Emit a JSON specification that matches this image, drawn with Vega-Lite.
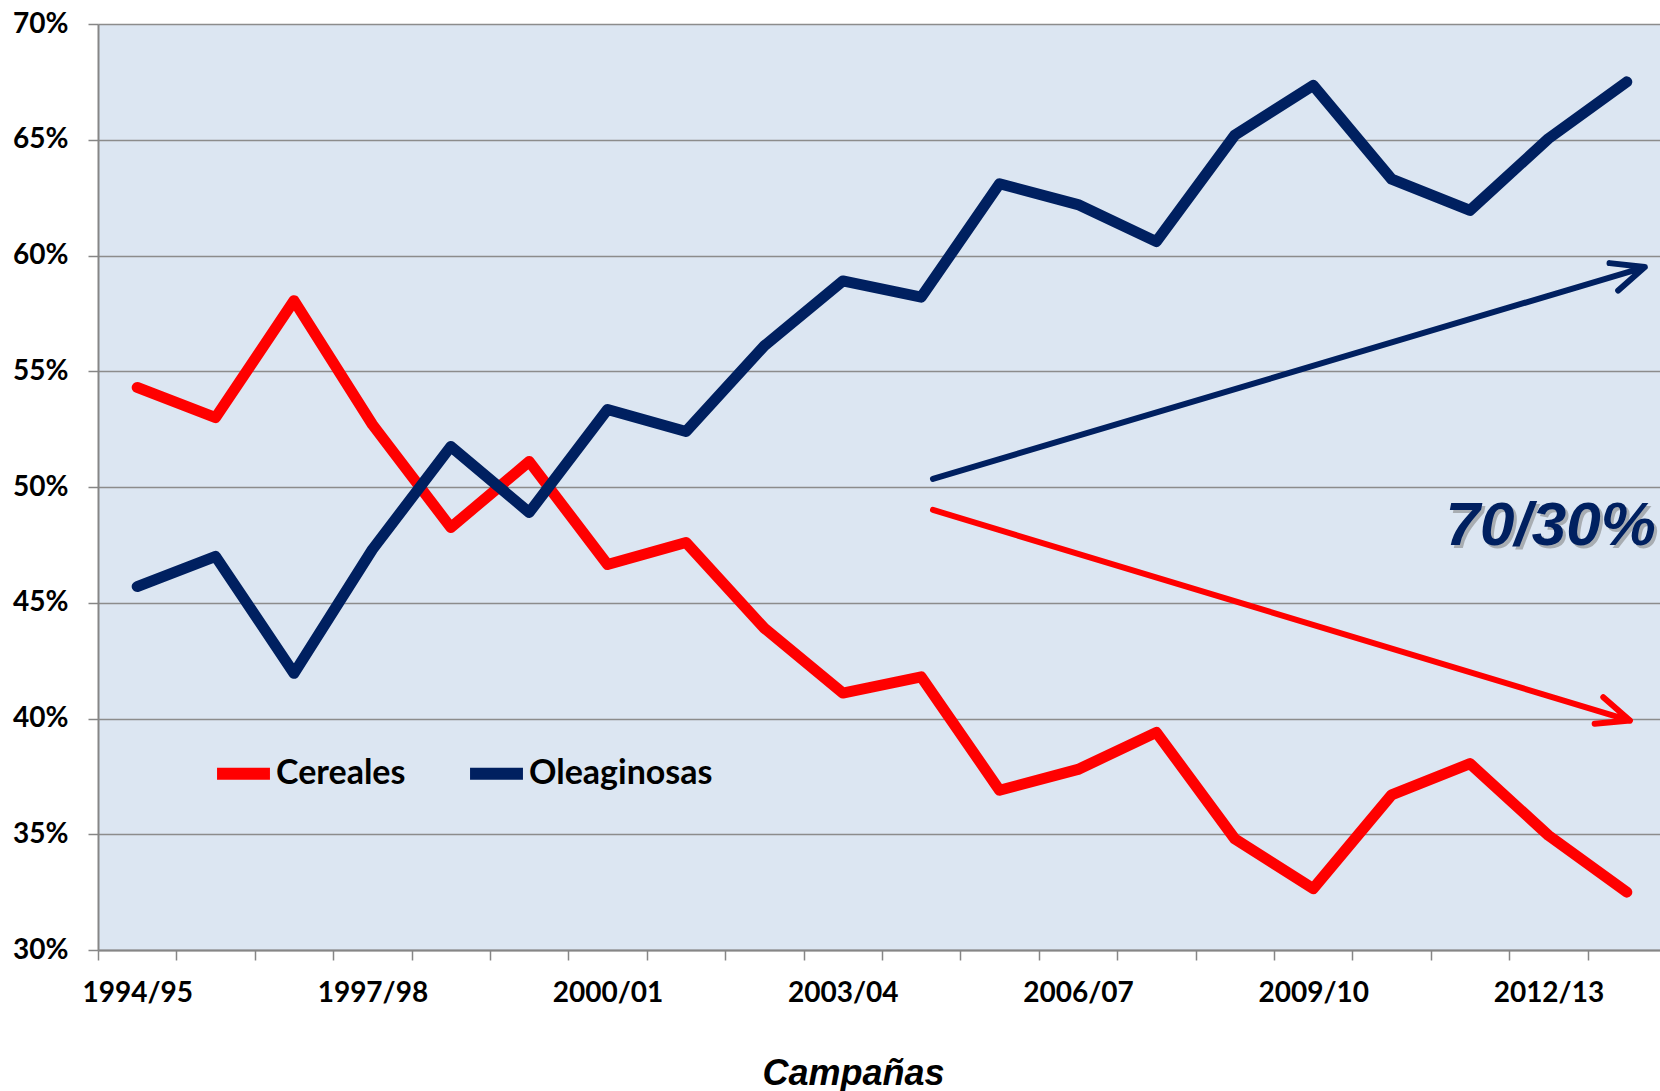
{
  "$schema": "https://vega.github.io/schema/vega-lite/v6.json",
  "width": 1562,
  "height": 926,
  "autosize": {"type": "none"},
  "padding": {"left": 98, "top": 24, "right": 0, "bottom": 141},
  "background": "#ffffff",
  "config": {
    "view": {"fill": "#dce6f2", "stroke": null}
  },
  "datasets": {
    "series": [
      {"campana": "1994/95", "serie": "Cereales", "valor": 54.3},
      {"campana": "1995/96", "serie": "Cereales", "valor": 53.0},
      {"campana": "1996/97", "serie": "Cereales", "valor": 58.05},
      {"campana": "1997/98", "serie": "Cereales", "valor": 52.7},
      {"campana": "1998/99", "serie": "Cereales", "valor": 48.25},
      {"campana": "1999/00", "serie": "Cereales", "valor": 51.1},
      {"campana": "2000/01", "serie": "Cereales", "valor": 46.65},
      {"campana": "2001/02", "serie": "Cereales", "valor": 47.6},
      {"campana": "2002/03", "serie": "Cereales", "valor": 43.9},
      {"campana": "2003/04", "serie": "Cereales", "valor": 41.1},
      {"campana": "2004/05", "serie": "Cereales", "valor": 41.8},
      {"campana": "2005/06", "serie": "Cereales", "valor": 36.9},
      {"campana": "2006/07", "serie": "Cereales", "valor": 37.8},
      {"campana": "2007/08", "serie": "Cereales", "valor": 39.4},
      {"campana": "2008/09", "serie": "Cereales", "valor": 34.8},
      {"campana": "2009/10", "serie": "Cereales", "valor": 32.65},
      {"campana": "2010/11", "serie": "Cereales", "valor": 36.7},
      {"campana": "2011/12", "serie": "Cereales", "valor": 38.05},
      {"campana": "2012/13", "serie": "Cereales", "valor": 34.95},
      {"campana": "2013/14", "serie": "Cereales", "valor": 32.5},
      {"campana": "1994/95", "serie": "Oleaginosas", "valor": 45.7},
      {"campana": "1995/96", "serie": "Oleaginosas", "valor": 47.0},
      {"campana": "1996/97", "serie": "Oleaginosas", "valor": 41.95},
      {"campana": "1997/98", "serie": "Oleaginosas", "valor": 47.3},
      {"campana": "1998/99", "serie": "Oleaginosas", "valor": 51.75},
      {"campana": "1999/00", "serie": "Oleaginosas", "valor": 48.9},
      {"campana": "2000/01", "serie": "Oleaginosas", "valor": 53.35},
      {"campana": "2001/02", "serie": "Oleaginosas", "valor": 52.4},
      {"campana": "2002/03", "serie": "Oleaginosas", "valor": 56.1},
      {"campana": "2003/04", "serie": "Oleaginosas", "valor": 58.9},
      {"campana": "2004/05", "serie": "Oleaginosas", "valor": 58.2},
      {"campana": "2005/06", "serie": "Oleaginosas", "valor": 63.1},
      {"campana": "2006/07", "serie": "Oleaginosas", "valor": 62.2},
      {"campana": "2007/08", "serie": "Oleaginosas", "valor": 60.6},
      {"campana": "2008/09", "serie": "Oleaginosas", "valor": 65.2},
      {"campana": "2009/10", "serie": "Oleaginosas", "valor": 67.35},
      {"campana": "2010/11", "serie": "Oleaginosas", "valor": 63.3},
      {"campana": "2011/12", "serie": "Oleaginosas", "valor": 61.95},
      {"campana": "2012/13", "serie": "Oleaginosas", "valor": 65.05},
      {"campana": "2013/14", "serie": "Oleaginosas", "valor": 67.5}
    ],
    "flechas": [
      {"serie": "Oleaginosas", "orden": 1, "pos": 10.65, "valor": 50.35},
      {"serie": "Oleaginosas", "orden": 2, "pos": 19.73, "valor": 59.5},
      {"serie": "Oleaginosas", "orden": 3, "pos": 19.28, "valor": 59.67},
      {"serie": "Oleaginosas", "orden": 4, "pos": 19.73, "valor": 59.5},
      {"serie": "Oleaginosas", "orden": 5, "pos": 19.39, "valor": 58.49},
      {"serie": "Cereales", "orden": 1, "pos": 10.65, "valor": 49.01},
      {"serie": "Cereales", "orden": 2, "pos": 19.54, "valor": 39.91},
      {"serie": "Cereales", "orden": 3, "pos": 19.2, "valor": 40.92},
      {"serie": "Cereales", "orden": 4, "pos": 19.54, "valor": 39.91},
      {"serie": "Cereales", "orden": 5, "pos": 19.09, "valor": 39.77}
    ],
    "nota": [
      {"pos": 18.53, "valor": 48.3, "texto": "70/30%"}
    ]
  },
  "layer": [
    {
      "data": {"name": "series"},
      "mark": {"type": "line", "strokeWidth": 11, "strokeCap": "round", "strokeJoin": "round"},
      "encoding": {
        "x": {
          "field": "campana",
          "type": "ordinal",
          "sort": null,
          "scale": {"type": "band", "paddingInner": 0, "paddingOuter": 0, "range": [0, 1568]},
          "axis": {
            "title": "Campañas",
            "titleFont": "Liberation Sans",
            "titleFontStyle": "italic",
            "titleFontWeight": "bold",
            "titleFontSize": 36,
            "titleColor": "#000000",
            "titlePadding": 49,
            "titleX": 755,
            "tickBand": "extent",
            "tickSize": 10,
            "tickColor": "#868686",
            "tickWidth": 1.5,
            "domainColor": "#868686",
            "domainWidth": 2,
            "grid": false,
            "labelAngle": 0,
            "labelOverlap": false,
            "labelPadding": 19,
            "labelFont": "Lato",
            "labelFontWeight": "bold",
            "labelFontSize": 28,
            "labelColor": "#000000",
            "labelExpr": "indexof(['1994/95','1997/98','2000/01','2003/04','2006/07','2009/10','2012/13'], datum.value) >= 0 ? datum.value : ''"
          }
        },
        "y": {
          "field": "valor",
          "type": "quantitative",
          "scale": {"domain": [30, 70], "nice": false, "zero": false},
          "axis": {
            "title": null,
            "values": [30, 35, 40, 45, 50, 55, 60, 65, 70],
            "labelExpr": "datum.value + '%'",
            "grid": true,
            "gridColor": "#8c8c8c",
            "gridWidth": 1.5,
            "tickSize": 10,
            "tickColor": "#868686",
            "tickWidth": 1.5,
            "domainColor": "#868686",
            "domainWidth": 2,
            "labelPadding": 20,
            "labelFont": "Lato",
            "labelFontWeight": "bold",
            "labelFontSize": 28,
            "labelColor": "#000000"
          }
        },
        "color": {
          "field": "serie",
          "type": "nominal",
          "scale": {"domain": ["Cereales", "Oleaginosas"], "range": ["#ff0000", "#002060"]},
          "legend": {
            "title": null,
            "orient": "none",
            "legendX": 113,
            "legendY": 717,
            "direction": "horizontal",
            "symbolType": "stroke",
            "symbolSize": 2800,
            "symbolStrokeWidth": 12,
            "labelFont": "Lato",
            "labelFontWeight": "bold",
            "labelFontSize": 34,
            "labelColor": "#000000",
            "labelLimit": 400,
            "labelOffset": 0,
            "columnPadding": 40,
            "padding": 0
          }
        }
      }
    },
    {
      "data": {"name": "flechas"},
      "mark": {"type": "line", "strokeWidth": 6, "strokeCap": "round", "strokeJoin": "round"},
      "encoding": {
        "x": {"field": "pos", "type": "quantitative", "scale": {"domain": [0, 20], "range": [0, 1568], "nice": false, "zero": false}, "axis": null},
        "y": {"field": "valor", "type": "quantitative"},
        "color": {"field": "serie", "type": "nominal"},
        "detail": {"field": "serie"},
        "order": {"field": "orden", "type": "quantitative"}
      }
    },
    {
      "data": {"name": "nota"},
      "mark": {"type": "text", "font": "Liberation Sans", "fontStyle": "italic", "fontWeight": "bold", "fontSize": 62, "color": "#7f7f7f", "opacity": 0.55, "dx": 3, "dy": 3, "align": "center", "baseline": "middle"},
      "encoding": {
        "x": {"field": "pos", "type": "quantitative", "scale": {"domain": [0, 20], "range": [0, 1568], "nice": false, "zero": false}, "axis": null},
        "y": {"field": "valor", "type": "quantitative"},
        "text": {"field": "texto"}
      }
    },
    {
      "data": {"name": "nota"},
      "mark": {"type": "text", "font": "Liberation Sans", "fontStyle": "italic", "fontWeight": "bold", "fontSize": 62, "color": "#002060", "align": "center", "baseline": "middle"},
      "encoding": {
        "x": {"field": "pos", "type": "quantitative", "scale": {"domain": [0, 20], "range": [0, 1568], "nice": false, "zero": false}, "axis": null},
        "y": {"field": "valor", "type": "quantitative"},
        "text": {"field": "texto"}
      }
    },
    {
      "mark": {"type": "rule", "color": "#1f3864", "strokeWidth": 2},
      "encoding": {"y": {"datum": 70}}
    }
  ],
  "resolve": {"scale": {"x": "independent"}}
}
